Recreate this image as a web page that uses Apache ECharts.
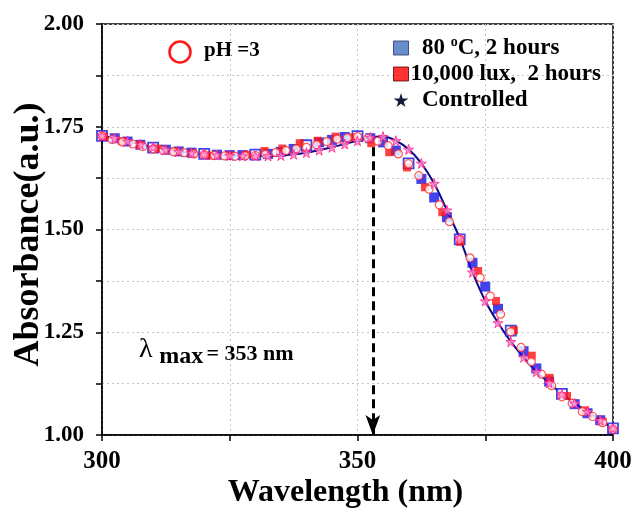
<!DOCTYPE html>
<html>
<head>
<meta charset="utf-8">
<script src="https://cdn.jsdelivr.net/npm/echarts@6/dist/echarts.min.js"></script>
<style>
  html, body { margin: 0; padding: 0; background: #fff; }
  #chart { width: 633px; height: 508px; }
</style>
</head>
<body>
<div id="chart"></div>
<script>
// Absorption spectra (300–400 nm)
const LAMBDA_MAX = 353;

// 80 °C, 2 hours — blue squares
const heatedWl = [300, 302.5, 305, 307.5, 310, 312.5, 315, 317.5, 320, 322.5, 325, 327.5, 330, 332.5, 335, 337.5,
  340, 342.5, 345, 347.5, 350, 352.5, 355, 357.5, 360, 362.5, 365, 367.5, 370, 372.5, 375, 377.5,
  380, 382.5, 385, 387.5, 390, 392.5, 395, 397.5, 400];
const heatedAbs = [1.728, 1.722, 1.714, 1.706, 1.699, 1.694, 1.690, 1.687, 1.684, 1.682, 1.681, 1.681, 1.682, 1.684, 1.689, 1.696,
  1.705, 1.712, 1.718, 1.725, 1.727, 1.722, 1.712, 1.692, 1.661, 1.623, 1.578, 1.530, 1.476, 1.419, 1.361, 1.307,
  1.254, 1.204, 1.162, 1.130, 1.100, 1.075, 1.053, 1.036, 1.016];
// hollow squares at the whole-10 nm points
const heatedHollow = [300, 310, 320, 330, 340, 350, 360, 370, 380, 390, 400];

// 10,000 lux, 2 hours — red squares
const lightWl = [300.4, 303.9, 307.4, 310.9, 314.3, 317.8, 321.3, 324.8, 328.3, 331.8, 335.3, 338.7, 342.2, 345.7,
  349.2, 352.7, 356.2, 359.7, 363.2, 366.6, 370.1, 373.6, 377.1, 380.6, 384.1, 387.6, 391.0, 394.5, 398.0];
const lightAbs = [1.726, 1.715, 1.706, 1.697, 1.690, 1.685, 1.680, 1.680, 1.682, 1.691, 1.697, 1.710, 1.716, 1.726,
  1.724, 1.710, 1.688, 1.651, 1.603, 1.542, 1.470, 1.399, 1.326, 1.255, 1.193, 1.139, 1.095, 1.060, 1.032];

// pH = 3 — red open circles
const phWl = [300, 302, 304, 306, 308, 310, 312, 314, 316, 318, 320, 322, 324, 326, 328, 330, 332, 334, 336, 338,
  340, 342, 344, 346, 348, 350, 352, 354, 356, 358, 360, 362, 364, 366, 368, 370, 372, 374, 376, 378,
  380, 382, 384, 386, 388, 390, 392, 394, 396, 398, 400];
const phAbs = [1.728, 1.719, 1.713, 1.708, 1.702, 1.696, 1.692, 1.689, 1.687, 1.684, 1.682, 1.680, 1.679, 1.678, 1.679, 1.680,
  1.683, 1.687, 1.692, 1.696, 1.700, 1.706, 1.714, 1.720, 1.723, 1.726, 1.722, 1.715, 1.704, 1.684, 1.660, 1.631,
  1.598, 1.560, 1.519, 1.476, 1.431, 1.383, 1.338, 1.294, 1.251, 1.213, 1.178, 1.148, 1.120, 1.093, 1.077, 1.057,
  1.045, 1.030, 1.014];

// Controlled — navy line with star markers
const ctrlWl = [300, 302.5, 305, 307.5, 310, 312.5, 315, 317.5, 320, 322.5, 325, 327.5, 330, 332.5, 335, 337.5,
  340, 342.5, 345, 347.5, 350, 352.5, 355, 357.5, 360, 362.5, 365, 367.5, 370, 372.5, 375, 377.5,
  380, 382.5, 385, 387.5, 390, 392.5, 395, 397.5, 400];
const ctrlAbs = [1.728, 1.722, 1.715, 1.707, 1.700, 1.694, 1.690, 1.686, 1.683, 1.681, 1.680, 1.679, 1.679, 1.679, 1.680, 1.683,
  1.687, 1.693, 1.700, 1.708, 1.716, 1.724, 1.726, 1.716, 1.695, 1.661, 1.612, 1.547, 1.479, 1.396, 1.326, 1.273,
  1.227, 1.189, 1.154, 1.127, 1.100, 1.077, 1.057, 1.036, 1.016];

const xTicks = [300, 350, 400];
const yTicks = [1.00, 1.25, 1.50, 1.75, 2.00];

const NAME_HEAT = '80 °C, 2 hours';
const NAME_LIGHT = '10,000 lux,  2 hours';
const NAME_CTRL = 'Controlled';

const STAR = 'path://M50,0 L61,35 L98,35 L68,57 L79,91 L50,70 L21,91 L32,57 L2,35 L39,35 Z';
const SERIF = '"Liberation Serif", "Times New Roman", serif';

const pairs = (xs, ys) => xs.map((x, i) => [x, ys[i]]);

const heatedData = heatedWl.map((x, i) =>
  heatedHollow.includes(x)
    ? { value: [x, heatedAbs[i]], itemStyle: { color: '#ffffff', borderColor: '#1414e6', borderWidth: 1.8 } }
    : { value: [x, heatedAbs[i]] }
);

const chart = echarts.init(document.getElementById('chart'));

chart.setOption({
  backgroundColor: '#ffffff',
  animation: false,
  grid: {
    left: 102, right: 20, top: 24, bottom: 73,
    show: true, borderColor: '#000', borderWidth: 1.5,
    outerBoundsMode: 'none'
  },
  xAxis: {
    type: 'value', min: 300, max: 400, interval: 25,
    name: 'Wavelength (nm)', nameLocation: 'middle', nameGap: 42, nameMoveOverlap: false,
    nameTextStyle: { fontFamily: SERIF, fontWeight: 'bold', fontSize: 32, color: '#000', padding: [0, 24, 0, 0] },
    axisLine: { lineStyle: { color: '#000', width: 1.5 } },
    axisTick: { inside: false, length: 6, lineStyle: { color: '#000', width: 1.5 } },
    axisLabel: {
      margin: 14, fontFamily: SERIF, fontWeight: 'bold', fontSize: 25, color: '#000',
      formatter: v => (xTicks.includes(v) ? String(v) : '')
    },
    splitLine: { show: true, lineStyle: { color: '#c4c4c4', type: [2, 3], width: 1 } }
  },
  yAxis: {
    type: 'value', min: 1.0, max: 2.0, interval: 0.125,
    name: 'Absorbance(a.u.)', nameLocation: 'middle', nameGap: 55, nameMoveOverlap: false,
    nameTextStyle: { fontFamily: SERIF, fontWeight: 'bold', fontSize: 36, color: '#000', padding: [0, 10, 0, 0] },
    axisLine: { show: true, lineStyle: { color: '#000', width: 1.5 } },
    axisTick: { show: true, inside: false, length: 6, lineStyle: { color: '#000', width: 1.5 } },
    axisLabel: {
      margin: 18, fontFamily: SERIF, fontWeight: 'bold', fontSize: 23, color: '#000',
      formatter: v => {
        const t = yTicks.find(y => Math.abs(y - v) < 1e-6);
        return t === undefined ? '' : t.toFixed(2);
      }
    },
    splitLine: { show: true, lineStyle: { color: '#c4c4c4', type: [2, 3], width: 1 } }
  },
  legend: {
    orient: 'vertical', left: 388, top: 30,
    itemWidth: 15, itemHeight: 14, itemGap: 0,
    selectedMode: false,
    textStyle: {
      fontFamily: SERIF, fontWeight: 'bold', fontSize: 23, color: '#000', lineHeight: 26, padding: [0, 0, 0, -3],
      rich: { s: { fontFamily: SERIF, fontWeight: 'bold', fontSize: 14, color: '#000', verticalAlign: 'top', lineHeight: 16 } }
    },
    formatter: name => (name === NAME_HEAT ? '  80 {s|o}C, 2 hours' : name === NAME_CTRL ? '  ' + name : name),
    data: [
      { name: NAME_HEAT, icon: 'rect', itemStyle: { color: '#4472c4', borderColor: '#1f3864', borderWidth: 1 } },
      { name: NAME_LIGHT, icon: 'rect', itemStyle: { color: '#ff0000', borderColor: '#500000', borderWidth: 1 } },
      { name: NAME_CTRL, icon: STAR, itemStyle: { color: '#141a3a', borderWidth: 0 } }
    ]
  },
  series: [
    {
      name: NAME_CTRL, type: 'line', smooth: 0.35, z: 2,
      data: pairs(ctrlWl, ctrlAbs),
      lineStyle: { color: '#0a0a8c', width: 2 },
      symbol: 'none',
      markLine: {
        silent: true,
        symbol: ['none', 'arrow'], symbolSize: [11, 20],
        label: { show: false },
        lineStyle: { color: '#000', width: 3, type: [9, 5] },
        data: [[{ coord: [LAMBDA_MAX, 1.70] }, { coord: [LAMBDA_MAX, 1.0] }]]
      }
    },
    {
      name: NAME_HEAT, type: 'scatter', z: 3,
      symbol: 'rect', symbolSize: 10,
      itemStyle: { color: '#1414e6' },
      data: heatedData
    },
    {
      name: NAME_LIGHT, type: 'scatter', z: 4,
      symbol: 'rect', symbolSize: 8,
      itemStyle: { color: '#ff1010' },
      data: pairs(lightWl, lightAbs)
    },
    {
      name: 'pH =3', type: 'scatter', z: 5,
      symbol: 'circle', symbolSize: 8,
      itemStyle: { color: '#ffffff', borderColor: '#ff2a2a', borderWidth: 1.2 },
      data: pairs(phWl, phAbs)
    },
    {
      name: 'Controlled markers', type: 'scatter', z: 6,
      symbol: STAR, symbolSize: 10,
      itemStyle: { color: '#ff8cc8', borderColor: '#ff1e8c', borderWidth: 1 },
      data: pairs(ctrlWl, ctrlAbs)
    }
  ],
  graphic: [
    {
      type: 'circle', shape: { cx: 180, cy: 52, r: 10.5 },
      style: { fill: 'none', stroke: '#ff1a1a', lineWidth: 2.6 }
    },
    {
      type: 'text', left: 204, top: 40,
      style: { text: 'pH =3', font: 'bold 21px ' + SERIF, fill: '#000' }
    },
    {
      type: 'text', left: 139, top: 336,
      style: {
        text: '{l|λ}  {m|max} {e|= ' + LAMBDA_MAX + ' nm}',
        rich: {
          l: { font: '28px ' + SERIF, fill: '#000', padding: [0, 0, 4, 0] },
          m: { font: 'bold 24px ' + SERIF, fill: '#000', padding: [10, 0, 0, 0] },
          e: { font: 'bold 22px ' + SERIF, fill: '#000', padding: [4, 0, 0, 0] }
        }
      }
    }
  ]
});
</script>
</body>
</html>
